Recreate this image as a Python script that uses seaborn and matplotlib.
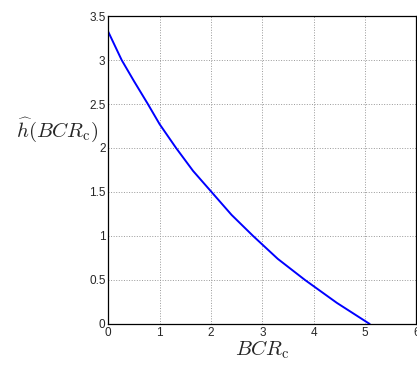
import numpy as np
import pandas as pd
import matplotlib
matplotlib.use('Agg')
import matplotlib.pyplot as plt
import seaborn as sns

# values (where it crosses the grid lines)
bcr = [0.0, 0.26, 0.5, 0.77, 1.0, 1.32, 1.65, 2.01, 2.4, 2.82, 3.3, 3.83, 4.45, 5.09]
h_hat = [3.32, 3.0, 2.76, 2.5, 2.27, 2.0, 1.74, 1.5, 1.24, 1.0, 0.74, 0.5, 0.24, 0.0]

xticks = [0, 1, 2, 3, 4, 5, 6]
yticks = [0, 0.5, 1, 1.5, 2, 2.5, 3, 3.5]
ytick_labels = ['0', '0.5', '1', '1.5', '2', '2.5', '3', '3.5']

sns.set_style('white')
plt.rcParams['font.family'] = ['Liberation Sans', 'DejaVu Sans']
plt.rcParams['mathtext.fontset'] = 'cm'

df = pd.DataFrame({'BCR': bcr, 'h': h_hat})

fig = plt.figure(figsize=(4.17, 3.68), dpi=100)
ax = fig.add_axes([0.2597, 0.1196, 0.739, 0.8369])

sns.lineplot(data=df, x='BCR', y='h', color='#0000ff', linewidth=1.4, ax=ax)

ax.set_xlim(0, 6)
ax.set_ylim(0, 3.5)
ax.set_xticks(xticks)
ax.set_yticks(yticks)
ax.set_xticklabels([str(t) for t in xticks])
ax.set_yticklabels(ytick_labels)
ax.tick_params(direction='in', length=3, labelsize=8.5, pad=2, color='black')
ax.grid(True, linestyle=':', color='#999999', linewidth=0.7)
for s in ax.spines.values():
    s.set_color('black')
    s.set_linewidth(0.9)

ax.set_xlabel(r'$BCR_{\mathrm{c}}$', fontsize=15, labelpad=0)
ax.set_ylabel(r'$\widehat{h}(BCR_{\mathrm{c}})$', fontsize=15, rotation=0,
              va='center', labelpad=0)
ax.yaxis.set_label_coords(-0.165, 0.63)

fig.savefig('out.png', dpi=100)
